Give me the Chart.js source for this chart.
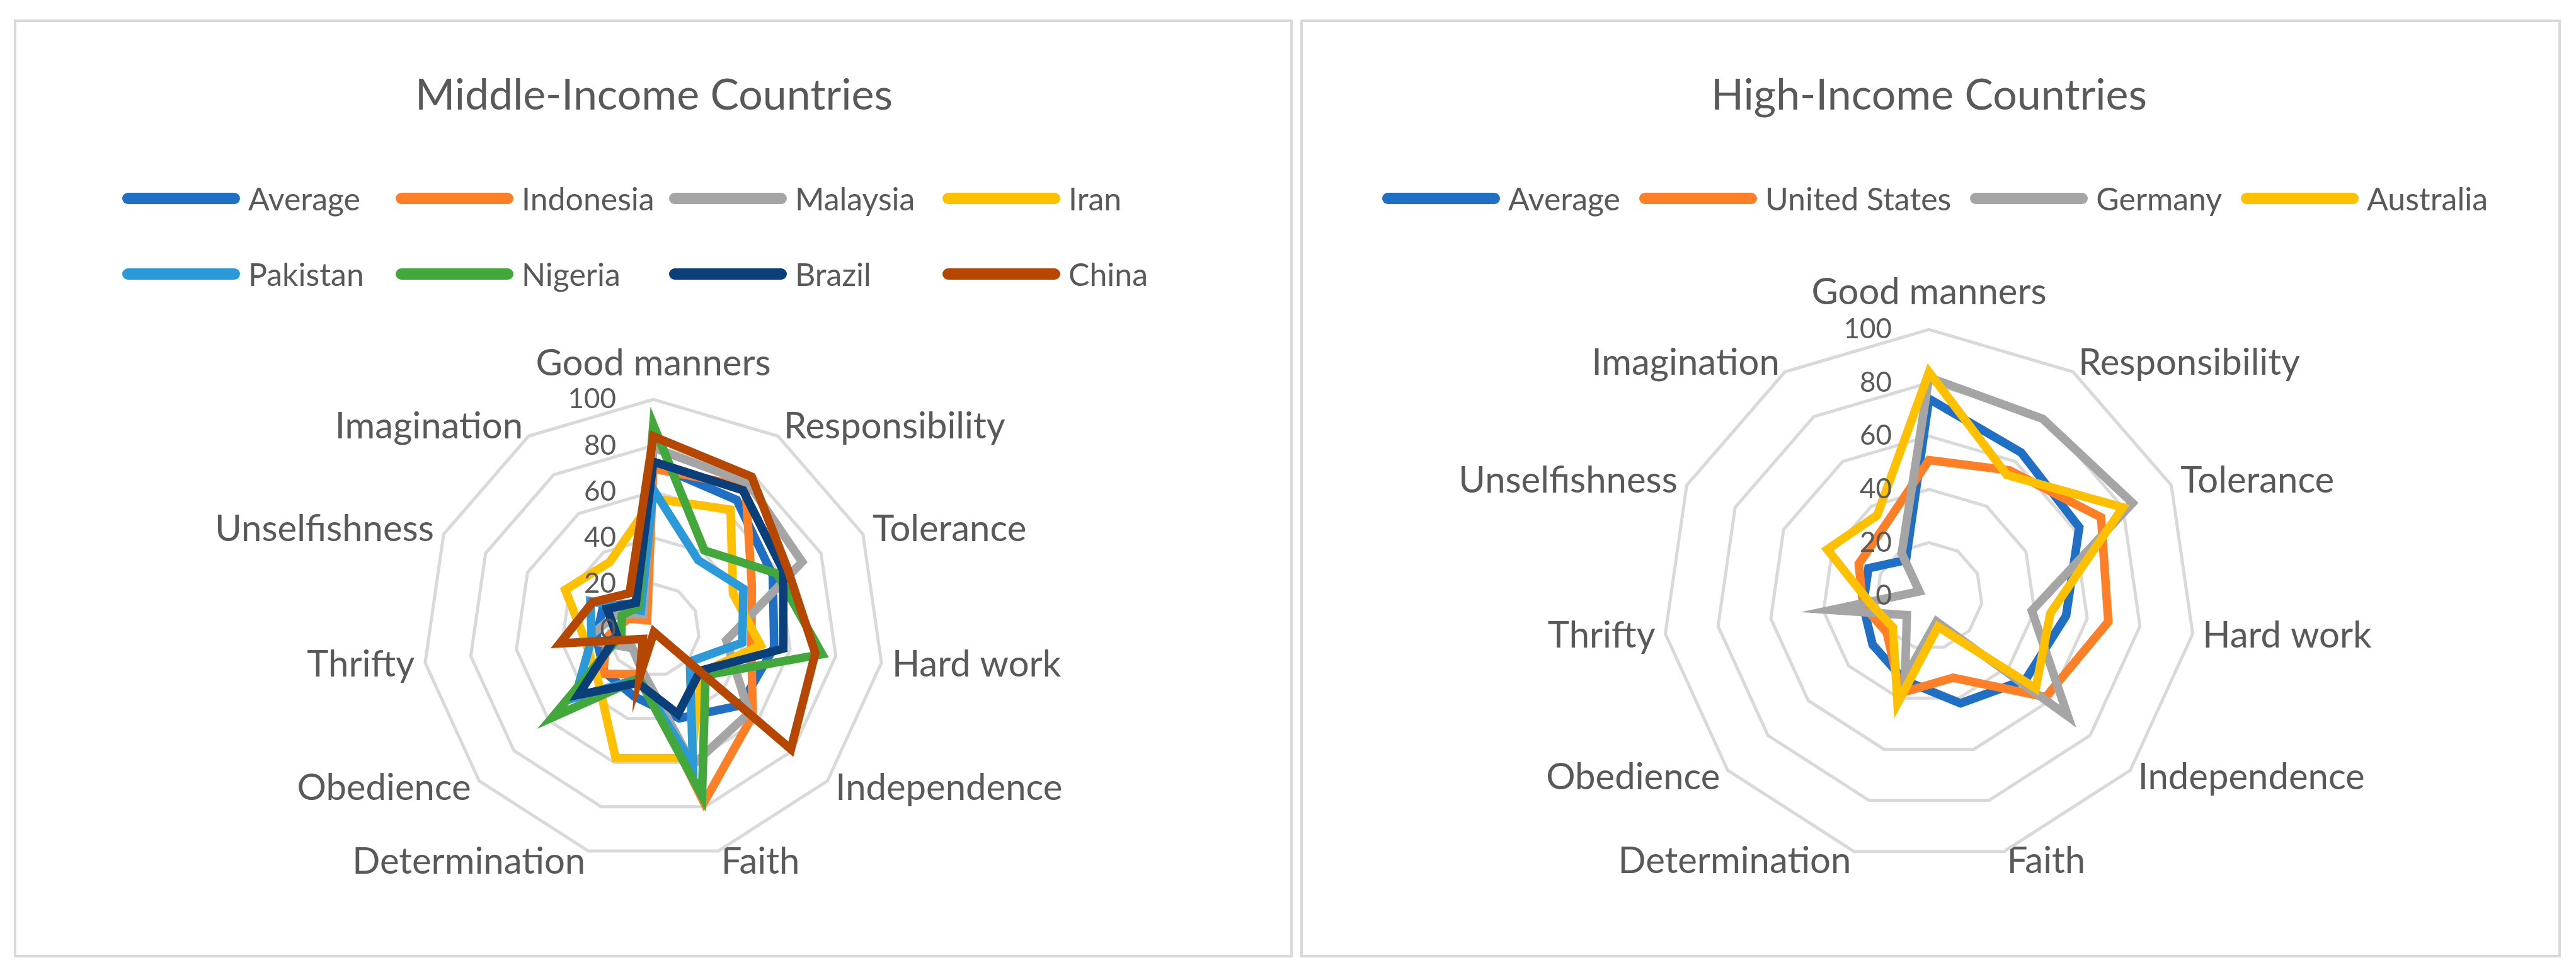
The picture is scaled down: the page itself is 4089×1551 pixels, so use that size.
<!DOCTYPE html>
<html>
<head>
<meta charset="utf-8">
<script src="https://cdn.jsdelivr.net/npm/chart.js@4.4.1/dist/chart.umd.min.js"></script>
<style>
  html, body { margin: 0; padding: 0; background: #fff; }
  body { width: 4089px; height: 1551px; position: relative; overflow: hidden; font-family: Lato, sans-serif; color: #595959; }
  .panel { position: absolute; top: 31px; height: 1489px; border: 4px solid #d9d9d9; box-sizing: border-box; }
  .title { position: absolute; top: 108px; width: 2000px; height: 80px; line-height: 80px; text-align: center; font-size: 68px; }
  .legend { position: absolute; font-size: 50px; }
  .legend.grid { display: grid; grid-template-columns: repeat(4, 434px); grid-auto-rows: 120px; }
  .legend.row { display: flex; height: 80px; gap: 30px; }
  .item { display: flex; align-items: center; white-space: nowrap; }
  .swatch { width: 187px; height: 18px; border-radius: 9px; margin-right: 13px; flex: none; }
  canvas { position: absolute; }
</style>
</head>
<body>
<div class="panel" style="left:22px; width:2030px;"></div>
<div class="panel" style="left:2064px; width:2001px;"></div>

<div class="title" style="left:38px;">Middle-Income Countries</div>
<div class="title" style="left:2062px;">High-Income Countries</div>

<div id="legendMid" class="legend grid" style="left:194px; top:255px;"></div>
<div id="legendHigh" class="legend row" style="left:2194px; top:275px;"></div>

<canvas id="midChart" width="1800" height="1046" style="left:137px; top:449px; width:1800px; height:1046px;"></canvas>
<canvas id="highChart" width="1800" height="1164" style="left:2162px; top:335px; width:1800px; height:1164px;"></canvas>

<script>
// qualities, clockwise from the top
const categories = ['Good manners', 'Responsibility', 'Tolerance', 'Hard work', 'Independence',
  'Faith', 'Determination', 'Obedience', 'Thrifty', 'Unselfishness', 'Imagination'];
const tickValues = [0, 20, 40, 60, 80, 100];

// middle-income countries (%)
const midNames = ['Average', 'Indonesia', 'Malaysia', 'Iran', 'Pakistan', 'Nigeria', 'Brazil', 'China'];
const midAverage   = [72, 67, 57, 53, 50, 40, 30, 28, 25, 24, 14];
const midIndonesia = [70, 74, 47, 43, 57, 78, 20, 29, 20, 12, 5];
const midMalaysia  = [79, 76, 71, 32, 55, 61, 18, 12, 30, 17, 8];
const midIran      = [57, 62, 38, 47, 28, 58, 58, 32, 30, 42, 35];
const midPakistan  = [61, 36, 43, 39, 21, 61, 22, 45, 27, 30, 10];
const midNigeria   = [89, 41, 59, 74, 30, 75, 22, 58, 14, 15, 12];
const midBrazil    = [73, 72, 62, 57, 27, 38, 24, 43, 16, 22, 14];
const midChina     = [84, 79, 64, 71, 79, 1, 21, 6, 41, 29, 19];
const midColors = ['#1F6FC5', '#FF7F27', '#A5A5A5', '#FFC000', '#2C9AD9', '#43A83B', '#0A3F7A', '#B54700'];

// high-income countries
const highNames = ['Average', 'United States', 'Germany', 'Australia'];
const highAverage   = [74, 64, 62, 52, 48, 42, 33, 28, 25, 25, 16];
const highUS        = [51, 56, 71, 68, 58, 32, 38, 21, 25, 29, 31];
const highGermany   = [82, 79, 84, 39, 69, 10, 32, 11, 37, 4, 19];
const highAustralia = [84, 54, 80, 46, 53, 12, 42, 18, 22, 42, 36];
const highColors = ['#1F6FC5', '#FF7F27', '#A5A5A5', '#FFC000'];

const textColor = '#595959';

// tick numbers sit left of the vertical spoke, over the lines (like Excel)
const tickLabelPlugin = {
  id: 'tickLabels',
  afterDatasetsDraw(chart) {
    const s = chart.scales.r;
    const ctx = chart.ctx;
    ctx.save();
    ctx.font = '44px Lato';
    ctx.fillStyle = textColor;
    ctx.textAlign = 'right';
    ctx.textBaseline = 'middle';
    s.ticks.forEach(t => {
      const y = s.yCenter - s.getDistanceFromCenterForValue(t.value);
      ctx.fillText(t.label, s.xCenter - 59, y);
    });
    ctx.restore();
  }
};

function buildRadar(canvasId, names, series, colors, topPad, sidePad) {
  const datasets = names.map((name, i) => ({
    label: name,
    data: series[i],
    borderColor: colors[i],
    backgroundColor: colors[i],
    borderWidth: 13.5,
    borderJoinStyle: 'miter',
    pointRadius: 0,
    pointHoverRadius: 0,
    fill: false,
    order: names.length - i // last series on top
  }));

  return new Chart(document.getElementById(canvasId), {
    type: 'radar',
    data: { labels: categories, datasets },
    options: {
      responsive: false,
      animation: false,
      events: [],
      layout: { padding: { top: 100, bottom: 100 } },
      plugins: { legend: { display: false }, tooltip: { enabled: false } },
      scales: {
        r: {
          min: 0,
          max: 100,
          afterBuildTicks: (scale) => { scale.ticks = tickValues.map(v => ({ value: v })); },
          ticks: { display: false, stepSize: 20 },
          grid: { color: '#d9d9d9', lineWidth: 5, circular: false },
          angleLines: { display: false },
          pointLabels: {
            color: textColor,
            font: { family: 'Lato', size: 58, lineHeight: 0.02 },
            padding: (ctx) => ctx.index === 0 ? topPad : sidePad
          }
        }
      }
    },
    plugins: [tickLabelPlugin]
  });
}

function buildLegend(elId, chart) {
  const el = document.getElementById(elId);
  chart.data.datasets.forEach(ds => {
    const item = document.createElement('div');
    item.className = 'item';
    const sw = document.createElement('span');
    sw.className = 'swatch';
    sw.style.background = ds.borderColor;
    const txt = document.createElement('span');
    txt.textContent = ds.label;
    item.appendChild(sw);
    item.appendChild(txt);
    el.appendChild(item);
  });
}

const midChart = buildRadar('midChart', midNames,
  [midAverage, midIndonesia, midMalaysia, midIran, midPakistan, midNigeria, midBrazil, midChina],
  midColors, 56, 17);
const highChart = buildRadar('highChart', highNames,
  [highAverage, highUS, highGermany, highAustralia],
  highColors, 58, 16);

buildLegend('legendMid', midChart);
buildLegend('legendHigh', highChart);
</script>
</body>
</html>
